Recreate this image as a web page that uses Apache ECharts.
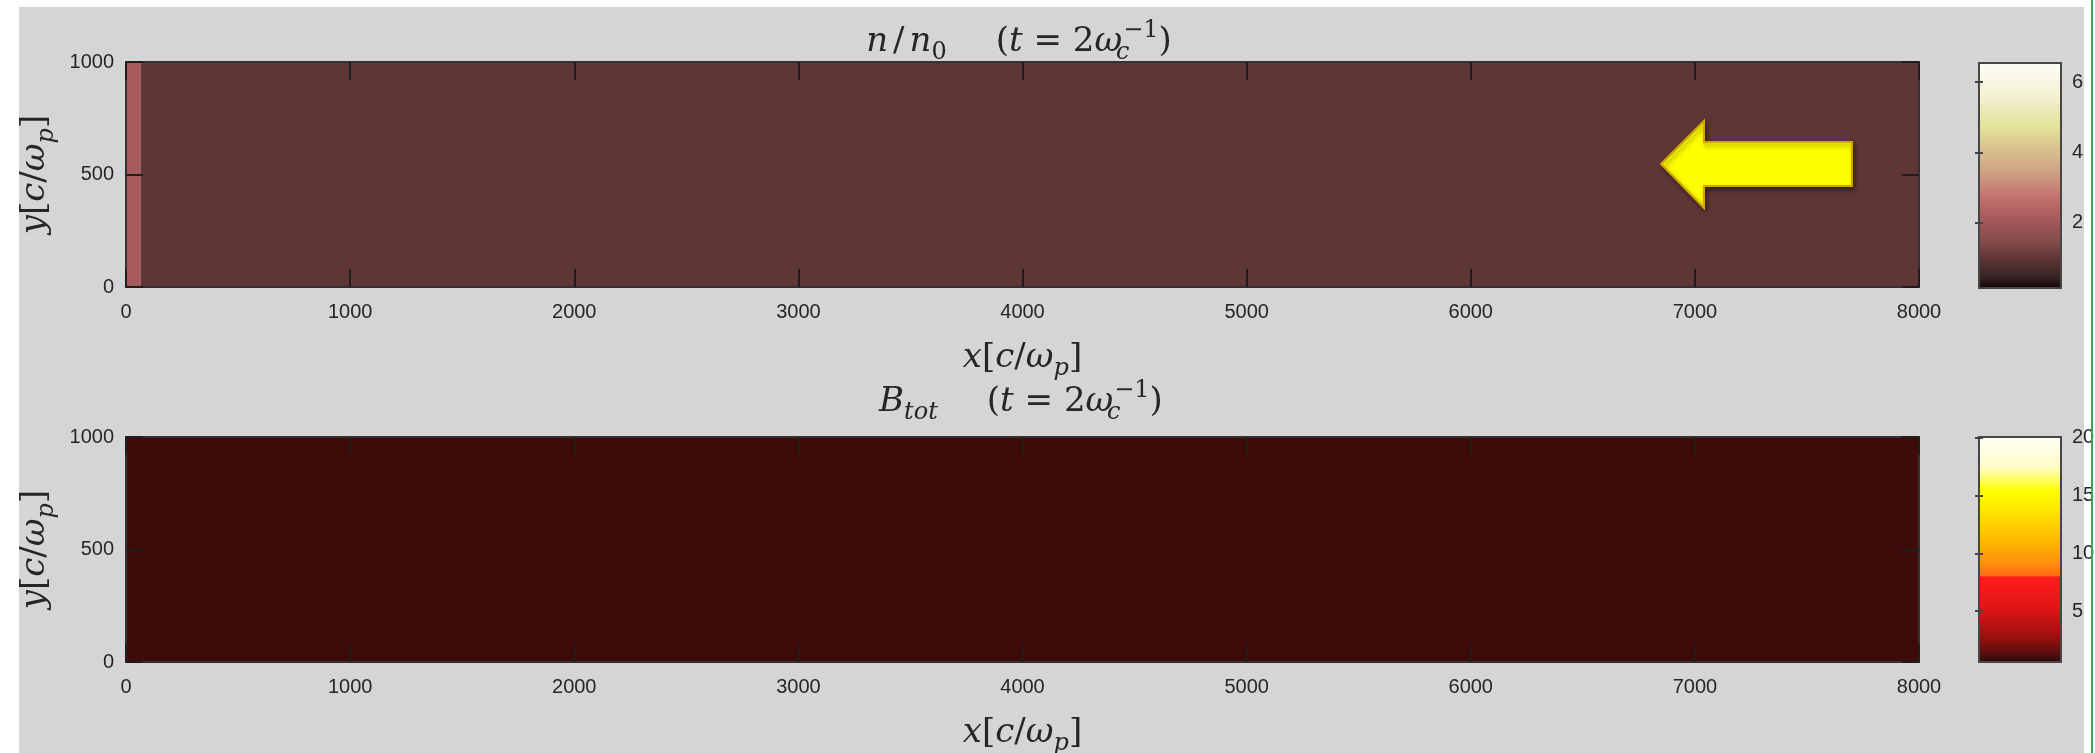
<!DOCTYPE html>
<html>
<head>
<meta charset="utf-8">
<script src="https://cdn.jsdelivr.net/npm/echarts@6/dist/echarts.min.js"></script>
<style>
  html, body { margin: 0; padding: 0; background: #ffffff; }
  #chart { width: 2095px; height: 753px; }
</style>
</head>
<body>
<div id="chart"></div>
<script>
// ---- axis ticks ----
const xTickValues = [0, 1000, 2000, 3000, 4000, 5000, 6000, 7000, 8000];
const yTickValues = [0, 500, 1000];
const xRange = [0, 8000];
const yRange = [0, 1000];

// ---- n/n0 field: bin edges (x, y) and cell values [row][col] ----
const densityXEdges = [0, 65, 8000];
const densityYEdges = [0, 1000];
const densityValues = [[2.15, 1.0]];

// ---- B_tot field ----
const fieldXEdges = [0, 8000];
const fieldYEdges = [0, 1000];
const fieldValues = [[1.0]];

// ---- colour bars ----
const densityBarRange = [0.14, 6.54];
const densityBarTicks = [2, 4, 6];
const fieldBarRange = [0.6, 20.05];
const fieldBarTicks = [5, 10, 15, 20];

// colour maps as [value, colour] stops
const densityColormap = [
  [0.14, '#100505'], [0.5, '#3a2626'], [1.0, '#5e3636'], [1.5, '#864c4c'],
  [2.15, '#a85b5c'], [2.64, '#c06c6c'], [3.02, '#c98578'], [3.5, '#d0a684'],
  [4.16, '#d9c58f'], [4.73, '#e3e39b'], [5.68, '#f5f2d8'], [6.54, '#fcfcf6']
];
const fieldColormap = [
  [0.6, '#1e0303'], [1.0, '#3f0c0c'], [1.6, '#620d0d'], [3.0, '#a21010'],
  [5.3, '#e01515'], [7.95, '#ff1c1c'], [8.1, '#ff6a12'], [9.1, '#ff8e10'],
  [10.8, '#ffb400'], [13.1, '#ffdc00'], [15.3, '#ffff00'], [17.4, '#fffcc8'],
  [20.05, '#fffff8']
];

const SERIF = '"DejaVu Serif", "Liberation Serif", serif';
const SANS = '"Liberation Sans", Arial, sans-serif';
const INK = '#262626';
const FRAME = '#333333';
const MATH_SIZE = 34;

function toCells(xe, ye, vals) {
  const out = [];
  for (let j = 0; j < ye.length - 1; j++) {
    for (let i = 0; i < xe.length - 1; i++) {
      out.push([xe[i], xe[i + 1], ye[j], ye[j + 1], vals[j][i]]);
    }
  }
  return out;
}

function hexRgb(h) {
  return [parseInt(h.slice(1, 3), 16), parseInt(h.slice(3, 5), 16), parseInt(h.slice(5, 7), 16)];
}
function colorAt(stops, v) {
  if (v <= stops[0][0]) return stops[0][1];
  for (let k = 1; k < stops.length; k++) {
    if (v <= stops[k][0]) {
      const [v0, c0] = stops[k - 1], [v1, c1] = stops[k];
      const t = (v - v0) / (v1 - v0);
      const a = hexRgb(c0), b = hexRgb(c1);
      return 'rgb(' + a.map((x, n) => Math.round(x + (b[n] - x) * t)).join(',') + ')';
    }
  }
  return stops[stops.length - 1][1];
}
// evenly spaced palette for visualMap
function palette(stops, n) {
  const lo = stops[0][0], hi = stops[stops.length - 1][0];
  const out = [];
  for (let k = 0; k < n; k++) out.push(colorAt(stops, lo + (hi - lo) * k / (n - 1)));
  return out;
}

// math-style rich text tokens
function mathRich(size, colorKey) {
  const L = Math.round(size * 1.35);
  const sub = Math.round(size * 0.7);
  const s = (extra) => Object.assign({
    fontFamily: SERIF, fontSize: size, lineHeight: L, verticalAlign: 'middle', [colorKey]: INK
  }, extra);
  return {
    i: s({ fontStyle: 'italic' }),
    r: s({}),
    sl: s({ padding: [0, 5, 0, 5] }),
    sub: s({ fontStyle: 'italic', fontSize: sub, lineHeight: Math.round(L / 2), verticalAlign: 'bottom' }),
    subr: s({ fontSize: sub, lineHeight: Math.round(L / 2), verticalAlign: 'bottom' }),
    subs: s({ fontStyle: 'italic', fontSize: sub, lineHeight: Math.round(L / 2), verticalAlign: 'bottom', width: 1 }),
    sup: s({ fontSize: sub, lineHeight: Math.round(L / 2), verticalAlign: 'top' }),
    gap: s({ width: Math.round(size * 1.45) })
  };
}

const densityTitle = '{i|n}{sl|/}{i|n}{subr|0}{gap| }{r|(}{i|t}{r| = 2}{i|ω}{subs|c}{sup|−1}{r|)}';
const fieldTitle = '{i|B}{sub|tot}{gap| }{r|(}{i|t}{r| = 2}{i|ω}{subs|c}{sup|−1}{r|)}';
const xName = '{i|x}{r|[}{i|c}{r|/}{i|ω}{sub|p}{r|]}';
const yName = '{i|y}{r|[}{i|c}{r|/}{i|ω}{sub|p}{r|]}';

const tickLabel = { fontFamily: SANS, fontSize: 20, color: INK, formatter: v => String(v) };

function plotX(gridIndex, position, labelled) {
  return {
    type: 'value', gridIndex, position, min: xRange[0], max: xRange[1], z: 5,
    axisLine: { show: true, onZero: false, lineStyle: { color: FRAME, width: 2 } },
    axisTick: { show: true, inside: true, length: 18, customValues: xTickValues, lineStyle: { color: '#1e1e1e', width: 2 } },
    axisLabel: Object.assign({ show: labelled, customValues: xTickValues, margin: 15 }, tickLabel),
    splitLine: { show: false },
    name: labelled ? xName : '', nameLocation: 'middle', nameGap: 48,
    nameTextStyle: { rich: mathRich(MATH_SIZE, 'color') }
  };
}
function plotY(gridIndex, position, labelled) {
  return {
    type: 'value', gridIndex, position, min: yRange[0], max: yRange[1], z: 5,
    axisLine: { show: true, onZero: false, lineStyle: { color: FRAME, width: 2 } },
    axisTick: { show: true, inside: true, length: 17, customValues: yTickValues, lineStyle: { color: '#1e1e1e', width: 2 } },
    axisLabel: Object.assign({ show: labelled, customValues: yTickValues, margin: 12 }, tickLabel),
    splitLine: { show: false },
    name: labelled ? yName : '', nameLocation: 'middle', nameGap: 60, nameRotate: 90,
    nameTextStyle: { rich: mathRich(MATH_SIZE, 'color') }
  };
}
function barX(gridIndex) {
  return { type: 'value', gridIndex, min: 0, max: 1, show: false };
}
function barY(gridIndex, position, range, ticks, labelled) {
  return {
    type: 'value', gridIndex, position, min: range[0], max: range[1], z: 5,
    axisLine: { show: false },
    axisTick: { show: true, inside: true, length: 4, customValues: ticks, lineStyle: { color: '#444', width: 2 } },
    axisLabel: Object.assign({ show: labelled, customValues: ticks, margin: 11 }, tickLabel),
    splitLine: { show: false }
  };
}

function renderCell(params, api) {
  const p0 = api.coord([api.value(0), api.value(3)]);
  const p1 = api.coord([api.value(1), api.value(2)]);
  return {
    type: 'rect',
    shape: { x: p0[0], y: p0[1], width: p1[0] - p0[0], height: p1[1] - p0[1] },
    style: { fill: api.visual('color') }
  };
}
function barRenderer(stops, range) {
  const [lo, hi] = range;
  const grad = stops.map(([v, c]) => ({ offset: (hi - v) / (hi - lo), color: c })).reverse();
  return function (params, api) {
    const p0 = api.coord([api.value(0), api.value(3)]);
    const p1 = api.coord([api.value(1), api.value(2)]);
    return {
      type: 'rect',
      shape: { x: p0[0], y: p0[1], width: p1[0] - p0[0], height: p1[1] - p0[1] },
      style: { fill: new echarts.graphic.LinearGradient(0, 0, 0, 1, grad), stroke: '#474747', lineWidth: 2 }
    };
  };
}

const chart = echarts.init(document.getElementById('chart'), null, { renderer: 'canvas' });

const gridBase = { outerBoundsMode: 'none', containLabel: false };
const option = {
  animation: false,
  backgroundColor: '#ffffff',
  grid: [
    Object.assign({ left: 126, top: 62, width: 1793, height: 225 }, gridBase),
    Object.assign({ left: 126, top: 437, width: 1793, height: 225 }, gridBase),
    Object.assign({ left: 1979, top: 63, width: 82, height: 225 }, gridBase),
    Object.assign({ left: 1979, top: 437, width: 82, height: 225 }, gridBase)
  ],
  xAxis: [
    plotX(0, 'bottom', true), plotX(0, 'top', false),
    plotX(1, 'bottom', true), plotX(1, 'top', false),
    barX(2), barX(3)
  ],
  yAxis: [
    plotY(0, 'left', true), plotY(0, 'right', false),
    plotY(1, 'left', true), plotY(1, 'right', false),
    barY(2, 'right', densityBarRange, densityBarTicks, true), barY(2, 'left', densityBarRange, densityBarTicks, false),
    barY(3, 'right', fieldBarRange, fieldBarTicks, true), barY(3, 'left', fieldBarRange, fieldBarTicks, false)
  ],
  visualMap: [
    { type: 'continuous', show: false, seriesIndex: 0, dimension: 4,
      min: densityBarRange[0], max: densityBarRange[1], inRange: { color: palette(densityColormap, 160) } },
    { type: 'continuous', show: false, seriesIndex: 1, dimension: 4,
      min: fieldBarRange[0], max: fieldBarRange[1], inRange: { color: palette(fieldColormap, 160) } }
  ],
  series: [
    { type: 'custom', name: 'n/n0', xAxisIndex: 0, yAxisIndex: 0, silent: true, z: 1,
      encode: { x: [0, 1], y: [2, 3] }, renderItem: renderCell,
      data: toCells(densityXEdges, densityYEdges, densityValues) },
    { type: 'custom', name: 'B_tot', xAxisIndex: 2, yAxisIndex: 2, silent: true, z: 1,
      encode: { x: [0, 1], y: [2, 3] }, renderItem: renderCell,
      data: toCells(fieldXEdges, fieldYEdges, fieldValues) },
    { type: 'custom', xAxisIndex: 4, yAxisIndex: 4, silent: true, z: 1,
      encode: { x: [0, 1], y: [2, 3] }, renderItem: barRenderer(densityColormap, densityBarRange),
      data: [[0, 1, densityBarRange[0], densityBarRange[1]]] },
    { type: 'custom', xAxisIndex: 5, yAxisIndex: 6, silent: true, z: 1,
      encode: { x: [0, 1], y: [2, 3] }, renderItem: barRenderer(fieldColormap, fieldBarRange),
      data: [[0, 1, fieldBarRange[0], fieldBarRange[1]]] }
  ],
  graphic: [
    // panel background
    { type: 'rect', z: -100, silent: true, shape: { x: 19, y: 7, width: 2065, height: 746 }, style: { fill: '#d5d5d5' } },
    { type: 'rect', z: 100, silent: true, shape: { x: 2091, y: 0, width: 2, height: 753 }, style: { fill: '#3aa655' } },
    // panel titles
    { type: 'text', z: 10, x: 1019, y: 42, silent: true,
      style: { text: densityTitle, rich: mathRich(MATH_SIZE, 'fill'), align: 'center', verticalAlign: 'middle' } },
    { type: 'text', z: 10, x: 1021, y: 402, silent: true,
      style: { text: fieldTitle, rich: mathRich(MATH_SIZE, 'fill'), align: 'center', verticalAlign: 'middle' } },
    // direction arrow
    { type: 'polygon', z: 50, silent: true,
      shape: { points: [[1661, 164], [1704, 121], [1704, 142], [1852, 142], [1852, 186], [1704, 186], [1704, 208]] },
      style: { fill: '#ffff00', stroke: '#d2a400', lineWidth: 2,
               shadowBlur: 5, shadowColor: 'rgba(0,0,0,0.4)', shadowOffsetX: 2, shadowOffsetY: 3 } }
  ]
};

chart.setOption(option);
</script>
</body>
</html>
